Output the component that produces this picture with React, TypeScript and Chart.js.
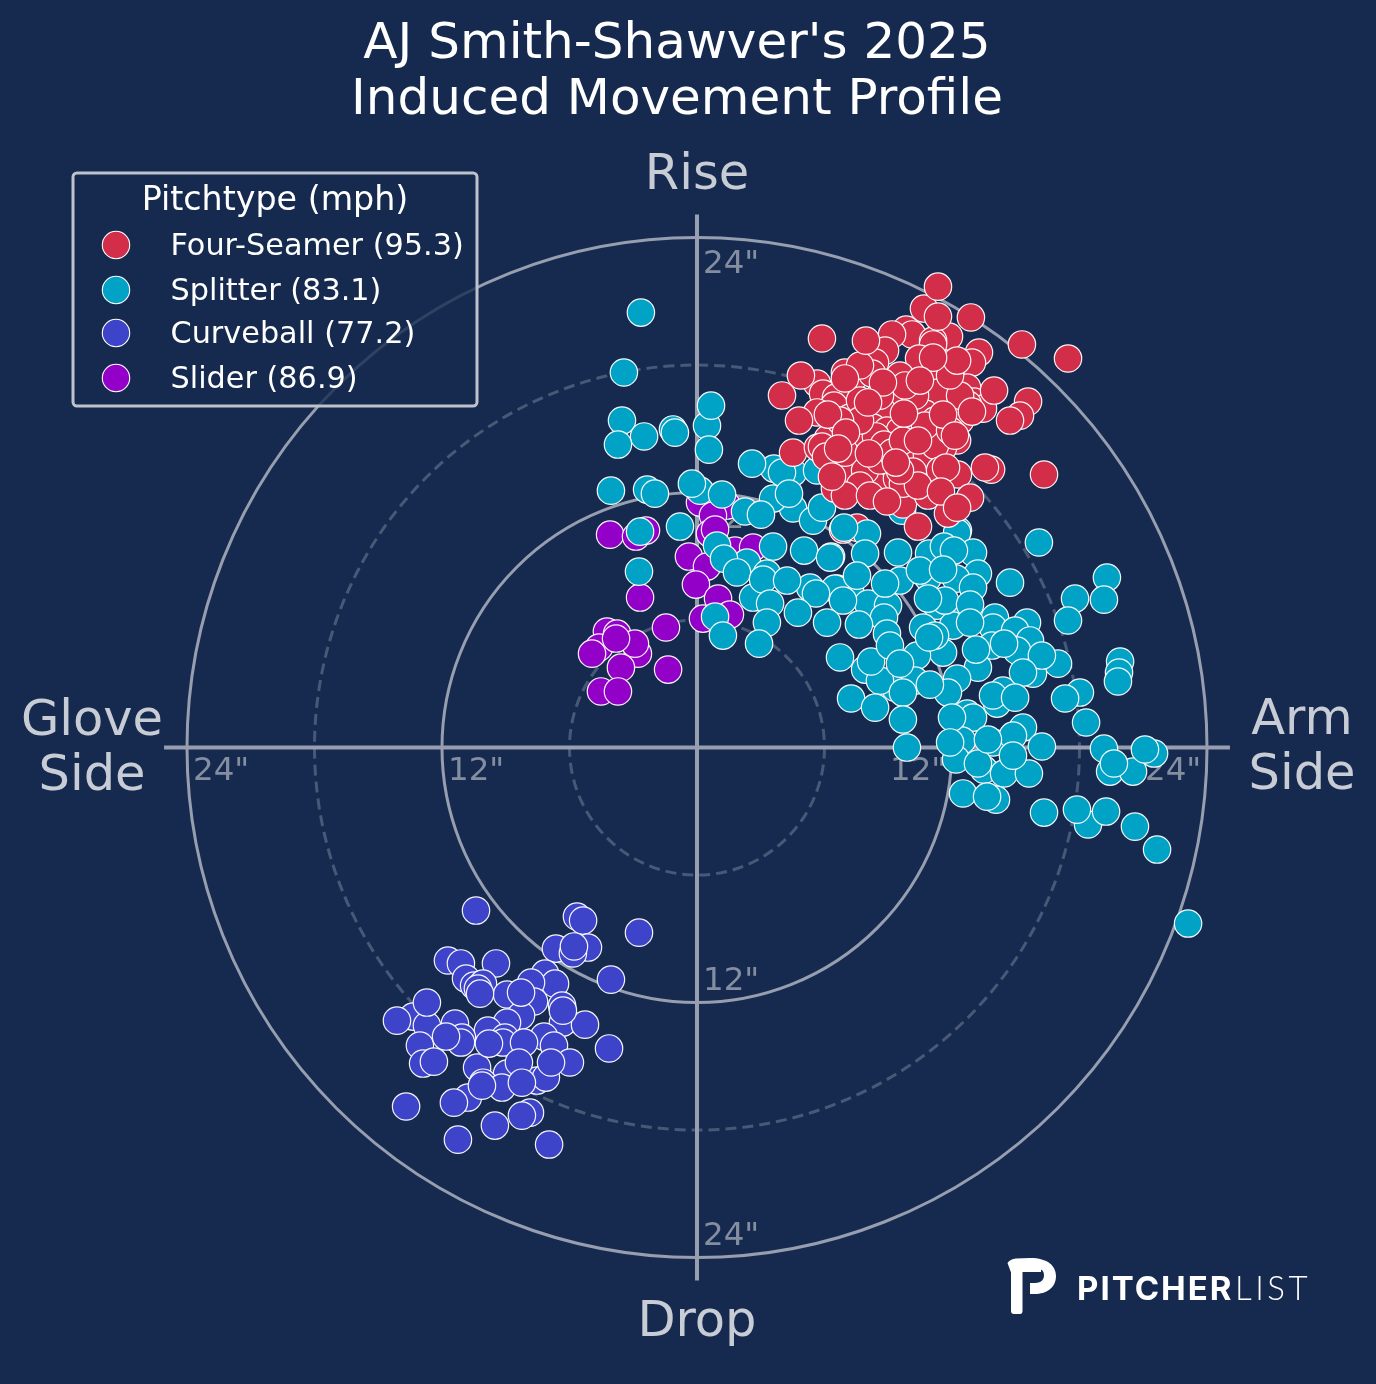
import React, { useEffect, useRef } from "react";
import { Chart, registerables } from "chart.js";

Chart.register(...registerables);

type Pt = [number, number];

const titleLines = ["AJ Smith-Shawver's 2025", "Induced Movement Profile"];
const legendTitle = "Pitchtype (mph)";
const legendLabels = ["Four-Seamer (95.3)", "Splitter (83.1)", "Curveball (77.2)", "Slider (86.9)"];
const seriesColors = ["#D22D49", "#00A3C5", "#3E44C9", "#9300C8"];
const ringSolid = [12, 24];
const ringDashed = [6, 18];
const tickValues = [12, 24];

const fourSeamerUnder: Pt[] = [[6.87,10.26],[7.53,10.35]];
const fourSeamer: Pt[] = [
[10.68,20.66],[9.84,19.67],[10.12,19.44],[9.18,19.44],[11.86,19.34],[11.11,19.15],[11.11,18.97],[13.27,18.59],[12.94,18.12],[8.85,18.68],[8.38,18.12],[10.45,18.31],
[6.96,17.65],[7.48,17.51],[8.24,17.6],[5.65,17.13],[11.44,17.37],[12.71,16.94],[5.93,16.66],[11.34,16.71],[6.54,16.47],[15.58,16.28],[13.04,16.28],[13.46,15.95],[12.75,16.14],[9.51,16.33],
[6.45,16.09],[5.65,15.77],[15.2,15.62],[10.73,15.72],[8.71,15.86],[7.2,15.53],[8.28,15.06],[10.82,14.78],[12.24,14.45],[6.16,14.54],[8.94,14.92],[8.38,14.31],[4.52,13.88],[5.69,14.12],
[6.4,13.74],[6.64,13.6],[7.67,13.88],[10.02,14.12],[11.58,14.12],[10.82,13.74],[13.84,13.08],[12.28,12.85],[7.06,12.42],[10.16,12.99],[9.08,12.8],[8.38,12.33],[6.49,12.19],[7.11,12.42],
[9.69,11.44],[10.87,11.86],[12.85,11.76],[11.81,11.01],[9.41,12.66],[9.69,12.42],
[7.67,16.33],[7.2,14.45],[9.55,14.92],[9.32,14.21],[11.2,15.39],[12.38,15.39],[7.2,13.04],[7.91,13.04],[8.61,13.51],[9.55,17.51],[10.26,16.56],[7.67,17.98],
[7.29,14.54],[7.58,14.26],[7.95,14.64],[8.42,14.64],[8.8,14.26],[9.18,13.88],[9.69,14.45],[5.88,14.16],[6.07,13.69],[6.96,13.88],[11.2,14.21],[10.73,15.15],[11.91,14.92],[11.44,13.04],
[10.4,12.33],[7.67,12.33],[6.96,11.86],[8.14,11.86],[9.55,13.04],[12.38,16.56],[11.91,17.51],[9.79,17.04],[7.67,15.39],[8.61,16.56],[6.73,15.39],
[11.34,21.69],[11.34,20.28],[12.89,20.24],[5.88,19.25],[7.95,19.15],[15.29,18.97],[17.46,18.31],[12.24,18.21],[11.11,18.35],[10.49,17.27],[8.75,17.18],[6.96,17.37],[4.89,17.51],[4,16.57],
[13.98,16.8],[8.05,16.24],[6.16,15.67],[9.74,15.72],[11.58,15.67],[12.94,15.81],[14.73,15.39],[4.8,15.39],[7.01,14.82],[10.4,14.45],[12.14,14.68],[8.09,13.84],[6.64,14.07],[9.36,13.41],
[11.72,13.18],[13.55,13.18],[16.33,12.85],[6.35,12.75],[8.94,11.58],[11.48,12.05],[12.24,11.29],[10.4,10.4],
];
const splitter: Pt[] = [
[0.14,12.09],[4.52,12.94],[5.65,13.04],[7.86,12.24],[9.65,11.15],[4.52,11.25],[3.58,11.72],[3.62,13.13],[-2.35,12.14],[-1.13,14.97],[0.47,15.15],[2.35,8.71],[3.29,8.19],[2.64,7.06],
[5.32,7.53],[6.59,7.48],[7.2,7.39],[8.14,6.59],[7.91,3.67],[12.28,10.21],[12.24,10.12],[8,10.07],[6.31,8.99],[10.92,9.13],[11.62,9.46],[12.99,9.18],[13.22,8.19],[9.55,7.86],[10.87,8],
[12.19,7.95],[12.99,7.53],[6.49,7.48],[8.05,6.78],[8.99,6.68],[11.29,6.68],[12.38,5.98],[12.05,5.74],[14.02,6.12],[13.93,5.65],[15.53,5.88],[14.97,5.51],[15.67,5.04],[13.88,4.8],[15.06,4.56],
[16.99,3.95],[11.58,4.47],[10.35,4.33],[13.22,3.76],[15.81,3.48],[12.24,3.25],[9.32,2.82],[11.81,2.59],[14.4,2.68],[14.12,2.07],[18.02,2.59],[12.71,1.6],[12.99,1.41],[15.34,0.94],[12.47,0.33],
[13.93,0.24],[13.51,-1.04],[14.45,-1.22],[12.19,-0.56],[13.22,-0.75],[15.62,-1.22],[14.07,-2.45],[18.4,-3.62],[21.51,-0.28],[19.44,-1.13],[20.52,-1.13],[19.91,4.05],[19.86,3.53],[19.29,8],
[17.79,7.01],[8.8,6.12],[8.94,5.36],[10.64,5.65],[11.2,5.27],[10.49,8.33],[11.67,6.92],[8.61,3.15],[10.26,3.15],
[-2.64,20.47],[-3.44,17.65],[-3.53,15.39],[-2.49,14.64],[-3.72,14.26],[-1.04,14.82],[0.66,16.09],[0.56,14.02],[2.59,13.36],[4,12.94],[-4.05,12.09],[-1.98,11.95],[-0.24,12.42],[1.18,11.91],
[4.33,11.95],[2.26,11.11],[3.01,10.96],[5.46,10.68],[5.88,11.29],[-2.68,10.16],[-0.8,10.4],[6.92,10.35],[3.58,9.46],[0.94,9.51],[1.27,8.89],[1.88,8.24],[5.04,9.27],[6.26,8.94],[7.91,9.13],
[9.46,9.18],[12.09,9.27],[16.09,9.65],[14.73,7.76],[7.53,8.09],[8.85,7.72],[11.58,8.38],[19.15,6.96],[17.46,5.98],[-2.73,8.28],[3.11,7.91],[4.24,7.86],[3.44,6.78],[5.6,7.25],[6.87,6.92],
[4.75,6.35],[6.12,5.88],[7.62,5.79],[3.29,5.88],[0.85,6.16],[1.22,5.27],[2.92,4.89],[6.73,4.24],[8.19,4.05],[7.25,2.31],[8.38,1.88],[10.87,7.01],[12.85,6.73],[9.08,4.8],[10.92,5.18],[12.85,5.88],
[13.13,4.61],[14.45,4.89],[16.23,4.33],[9.55,3.95],[15.34,3.53],[10.96,2.96],[9.69,2.59],[13.93,2.45],[14.97,2.35],[17.32,2.31],[19.81,3.11],[18.31,1.18],[9.69,1.32],[12,1.41],[14.87,0.56],
[13.69,0.38],[11.91,0.24],[9.88,0],[16.23,0.05],[19.15,-0.05],[21.08,-0.09],[19.62,-0.75],[14.87,-0.38],[12.52,-2.16],[13.65,-2.31],[16.33,-3.06],[17.88,-2.92],[19.25,-3.01],[20.61,-3.72],
[21.65,-4.8],[23.11,-8.28],
];
const curveball: Pt[] = [
[-10.4,-7.67],[-5.65,-7.95],[-5.36,-8.14],[-2.73,-8.71],[-6.64,-9.46],[-5.13,-9.41],[-5.84,-9.69],[-5.79,-9.36],[-11.72,-10.02],[-11.11,-10.16],[-9.46,-10.16],[-7.15,-10.64],[-4.05,-10.92],
[-10.87,-10.87],[-10.49,-11.2],[-10.07,-11.11],[-10.31,-11.34],[-6.68,-11.11],[-7.81,-11.06],[-8.94,-11.62],[-7.67,-11.95],[-13.36,-12.66],[-14.12,-12.85],[-6.35,-12.14],[-6.31,-12.94],
[-5.27,-13.04],[-8.28,-12.61],[-8.94,-12.94],[-11.39,-12.99],[-12.71,-13.08],[-9.84,-13.32],[-11.06,-13.65],[-13.04,-14.02],[-11.11,-13.88],[-9.04,-13.65],[-9.13,-13.88],[-7.2,-13.6],
[-6.73,-14.02],[-4.14,-14.16],[-12.89,-14.87],[-10.35,-15.06],[-5.98,-14.82],[-8.94,-15.34],[-7.53,-15.67],[-7.11,-15.53],[-10.07,-15.77],[-9.18,-16],[-10.78,-16.47],[-11.44,-16.71],
[-13.69,-16.89],[-7.86,-17.18],[-9.51,-17.79],[-11.25,-18.45],[-6.96,-18.68],
[-10.21,-11.58],[-8.28,-11.53],[-12.71,-12],[-6.31,-12.38],[-11.81,-13.6],[-9.79,-13.93],[-8.14,-13.88],[-12.38,-14.78],[-8.38,-14.82],[-6.87,-14.82],[-10.12,-15.91],[-8.24,-15.77],[-8.24,-17.32],
];
const slider: Pt[] = [
[0.94,11.76],[1.41,11.39],[0.14,11.53],[0.75,10.92],[0.61,10.07],[0.85,10.26],[1.79,9.27],[2.64,9.41],[-0.38,8.99],[0.47,8.52],[-0.05,7.67],[0.99,7.01],[0.28,6.07],[1.55,6.26],
[-4.09,10.02],[-2.87,9.93],[-2.4,10.21],[-2.68,7.06],[-1.46,5.65],[-4.24,5.46],[-3.76,5.36],[-2.78,4.42],[-2.92,4.89],[-4.61,4.71],[-4.94,4.42],[-3.58,3.76],[-1.36,3.67],[-4.52,2.64],[-3.72,2.64],[-3.81,5.13],
];

const BG = "#152A4E";
const GRID = "rgb(150,158,175)";
const DASH = "rgb(72,88,118)";
const TICK = "rgb(132,142,160)";
const LABEL = "rgb(200,204,212)";
const SANS = '"DejaVu Sans", sans-serif';

const toXY = (p: Pt[]) => p.map(([x, y]) => ({ x, y }));

function drawLogo(ctx: CanvasRenderingContext2D) {
  ctx.save();
  ctx.fillStyle = "#fff";
  const p = new Path2D();
  p.moveTo(1007.5, 1263);
  p.quadraticCurveTo(1010, 1259, 1016, 1258.5);
  p.lineTo(1030, 1258);
  p.bezierCurveTo(1048, 1258, 1056, 1266, 1056, 1276);
  p.bezierCurveTo(1056, 1288, 1046, 1294, 1035, 1294);
  p.lineTo(1030, 1294);
  p.lineTo(1030, 1283);
  p.lineTo(1035, 1283);
  p.bezierCurveTo(1042, 1283, 1044, 1279, 1044, 1275);
  p.bezierCurveTo(1044, 1270, 1040, 1268, 1034, 1268);
  p.lineTo(1011, 1272.5);
  p.lineTo(1011, 1311);
  p.quadraticCurveTo(1011, 1314, 1014, 1314);
  p.lineTo(1020, 1314);
  p.quadraticCurveTo(1022.5, 1314, 1022.5, 1311);
  p.lineTo(1022.5, 1270);
  p.lineTo(1011, 1272.5);
  p.closePath();
  ctx.fill(p);
  ctx.fillRect(1011, 1268, 30, 4);
  ctx.textBaseline = "alphabetic";
  ctx.textAlign = "left";
  const c = ctx as any;
  c.letterSpacing = "2px";
  ctx.font = '700 33px Inter, sans-serif';
  ctx.fillText("PITCHER", 1077, 1300);
  c.letterSpacing = "3.5px";
  ctx.font = '300 33px Lato, sans-serif';
  ctx.fillText("LIST", 1235, 1300);
  c.letterSpacing = "0px";
  ctx.restore();
}

const polarPlugin = {
  id: "polarFrame",
  beforeDatasetsDraw(chart: any) {
    const { ctx, scales } = chart;
    const sx = scales.x, sy = scales.y;
    const cx = sx.getPixelForValue(0), cy = sy.getPixelForValue(0);
    const rad = (v: number) => sx.getPixelForValue(v) - cx;
    ctx.save();
    ctx.lineWidth = 3;
    ctx.strokeStyle = DASH;
    ctx.setLineDash([11, 6]);
    for (const r of ringDashed) { ctx.beginPath(); ctx.arc(cx, cy, rad(r), 0, Math.PI * 2); ctx.stroke(); }
    ctx.setLineDash([]);
    ctx.strokeStyle = GRID;
    for (const r of ringSolid) { ctx.beginPath(); ctx.arc(cx, cy, rad(r), 0, Math.PI * 2); ctx.stroke(); }
    ctx.lineWidth = 4;
    const L = 25.08;
    ctx.beginPath();
    ctx.moveTo(sx.getPixelForValue(-L), cy); ctx.lineTo(sx.getPixelForValue(L), cy);
    ctx.moveTo(cx, sy.getPixelForValue(L)); ctx.lineTo(cx, sy.getPixelForValue(-L));
    ctx.stroke();

    ctx.fillStyle = TICK;
    ctx.font = `32.5px ${SANS}`;
    ctx.textBaseline = "middle";
    ctx.textAlign = "left";
    for (const t of tickValues) {
      const s = `${t}"`;
      ctx.fillText(s, cx + 6, sy.getPixelForValue(t) + 27);
      ctx.fillText(s, cx + 6, sy.getPixelForValue(-t) - 21);
      ctx.fillText(s, sx.getPixelForValue(-t) + 6, cy + 24);
      ctx.fillText(s, sx.getPixelForValue(t) - 62, cy + 24);
    }
    ctx.fillStyle = LABEL;
    ctx.font = `49.5px ${SANS}`;
    ctx.textAlign = "center";
    ctx.fillText("Rise", cx, 176);
    ctx.fillText("Drop", cx, 1323);
    ctx.fillText("Glove", 92, 722);
    ctx.fillText("Side", 92, 777);
    ctx.fillText("Arm", 1302, 721);
    ctx.fillText("Side", 1302, 776);
    ctx.restore();
  },
  afterDatasetsDraw(chart: any) {
    const { ctx } = chart;
    ctx.save();
    ctx.fillStyle = "#fff";
    ctx.font = `50px ${SANS}`;
    ctx.textAlign = "center";
    ctx.textBaseline = "middle";
    ctx.fillText(titleLines[0], 677, 45);
    ctx.fillText(titleLines[1], 677, 101);

    ctx.beginPath();
    ctx.roundRect(73, 173, 404, 233, 4);
    ctx.fillStyle = "rgba(21,42,78,0.8)";
    ctx.fill();
    ctx.lineWidth = 3;
    ctx.strokeStyle = "rgb(190,194,202)";
    ctx.stroke();

    ctx.fillStyle = "#fff";
    ctx.font = `33.3px ${SANS}`;
    ctx.fillText(legendTitle, 275, 201);
    ctx.font = `30.3px ${SANS}`;
    ctx.textAlign = "left";
    const ys = [245, 290, 333, 378];
    legendLabels.forEach((label, i) => {
      ctx.beginPath();
      ctx.arc(116, ys[i], 13.7, 0, Math.PI * 2);
      ctx.fillStyle = seriesColors[i];
      ctx.fill();
      ctx.lineWidth = 1.1;
      ctx.strokeStyle = "#fff";
      ctx.stroke();
      ctx.fillStyle = "#fff";
      ctx.fillText(label, 170.5, ys[i] + 2);
    });
    drawLogo(ctx);
    ctx.restore();
  },
};

export default function App() {
  const ref = useRef<HTMLCanvasElement>(null);
  useEffect(() => {
    document.body.style.margin = "0";
    document.body.style.background = BG;
    const mk = (label: string, data: Pt[], color: string, order: number) => ({
      label, data: toXY(data), backgroundColor: color, borderColor: "rgba(255,255,255,0.95)", borderWidth: 1.2,
      pointRadius: 13.7, pointHoverRadius: 13.7, order,
    });
    const chart = new Chart(ref.current!, {
      type: "scatter",
      data: {
        datasets: [
          mk(legendLabels[2], curveball, seriesColors[2], 0),
          mk(legendLabels[0], fourSeamer, seriesColors[0], 1),
          mk(legendLabels[1], splitter, seriesColors[1], 2),
          mk(legendLabels[0], fourSeamerUnder, seriesColors[0], 3),
          mk(legendLabels[3], slider, seriesColors[3], 4),
        ],
      },
      options: {
        animation: false,
        responsive: false,
        devicePixelRatio: 1,
        layout: { padding: 0, autoPadding: false },
        plugins: { legend: { display: false }, title: { display: false }, tooltip: { enabled: false } },
        scales: {
          x: { type: "linear", display: false, min: -32.8, max: 31.953 },
          y: { type: "linear", display: false, min: -29.95, max: 35.18 },
        },
      },
      plugins: [polarPlugin],
    } as any);
    return () => chart.destroy();
  }, []);
  return (
    <div style={{ width: 1376, height: 1384, background: BG }}>
      <canvas ref={ref} width={1376} height={1384} style={{ display: "block", background: BG }} />
    </div>
  );
}
